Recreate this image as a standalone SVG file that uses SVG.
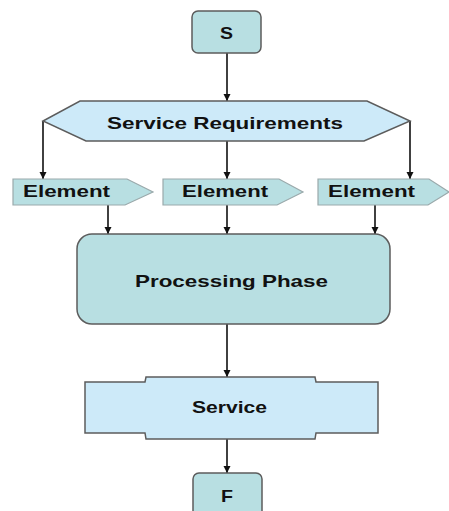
<svg xmlns="http://www.w3.org/2000/svg" width="449" height="511" viewBox="0 0 449 511">
  <style>
    .teal { fill: #b8dfe2; stroke: #5c5c5c; stroke-width: 1.5; }
    .flag { fill: #b8dfe2; stroke: #9aa9ab; stroke-width: 1.2; }
    .sky { fill: #cdeaf9; stroke: #5c5c5c; stroke-width: 1.5; }
    .lbl { font-family: "Liberation Sans", Arial, sans-serif; font-weight: bold; font-size: 16.5px; fill: #111; }
    .edge { stroke: #111; stroke-width: 1.6; fill: none; marker-end: url(#arrow); }
  </style>
  <defs>
    <marker id="arrow" markerWidth="8" markerHeight="8" refX="7" refY="4" orient="auto" markerUnits="userSpaceOnUse">
      <path d="M0,0.5 L7,4 L0,7.5 Z" fill="#111"/>
    </marker>
  </defs>

  <rect width="449" height="511" fill="#ffffff"/>

  <g id="connectors">
    <line class="edge" x1="227" y1="53" x2="227" y2="101"/>
    <line class="edge" x1="43" y1="121" x2="43" y2="179"/>
    <line class="edge" x1="227" y1="141" x2="227" y2="179"/>
    <line class="edge" x1="410" y1="121" x2="410" y2="179"/>
    <line class="edge" x1="108" y1="205" x2="108" y2="234"/>
    <line class="edge" x1="227" y1="205" x2="227" y2="234"/>
    <line class="edge" x1="375" y1="205" x2="375" y2="234"/>
    <line class="edge" x1="227" y1="324" x2="227" y2="377"/>
    <line class="edge" x1="227" y1="439" x2="227" y2="473"/>
  </g>

  <g id="start">
    <rect class="teal" x="192" y="11" width="69" height="42" rx="6"/>
    <text class="lbl" x="226.5" y="38.5" text-anchor="middle" textLength="13" lengthAdjust="spacingAndGlyphs">S</text>
  </g>

  <g id="requirements">
    <polygon class="sky" points="80,101 367,101 410,121 364,141 86,141 43,121"/>
    <text class="lbl" x="107" y="128.5" textLength="236" lengthAdjust="spacingAndGlyphs">Service Requirements</text>
  </g>

  <g id="element-1">
    <polygon class="flag" points="13,179 127,179 153,192 125,205 13,205"/>
    <text class="lbl" x="23" y="196.5" textLength="87" lengthAdjust="spacingAndGlyphs">Element</text>
  </g>
  <g id="element-2">
    <polygon class="flag" points="163,179 279,179 303,192 277,205 163,205"/>
    <text class="lbl" x="182" y="196.5" textLength="86" lengthAdjust="spacingAndGlyphs">Element</text>
  </g>
  <g id="element-3">
    <polygon class="flag" points="318,179 429,179 449,192 428,205 318,205"/>
    <text class="lbl" x="328" y="196.5" textLength="87" lengthAdjust="spacingAndGlyphs">Element</text>
  </g>

  <g id="processing">
    <rect class="teal" x="77" y="234" width="313" height="90" rx="15"/>
    <text class="lbl" x="135" y="287" textLength="193" lengthAdjust="spacingAndGlyphs">Processing Phase</text>
  </g>

  <g id="service">
    <polygon class="sky" points="85,382 145,382 146,377 315,377 316,382 378,382 378,433 316,433 315,439 146,439 145,433 85,433"/>
    <text class="lbl" x="192" y="413" textLength="75" lengthAdjust="spacingAndGlyphs">Service</text>
  </g>

  <g id="finish">
    <rect class="teal" x="193" y="473" width="69" height="48" rx="6"/>
    <text class="lbl" x="227" y="501.5" text-anchor="middle" textLength="12" lengthAdjust="spacingAndGlyphs">F</text>
  </g>
</svg>
